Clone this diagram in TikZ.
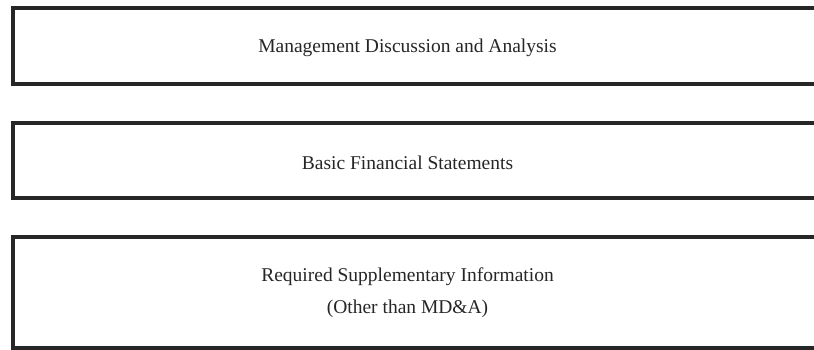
\documentclass[tikz,border=0pt]{standalone}
\usepackage{fontspec}
\setmainfont{Liberation Serif}
\begin{document}
\begin{tikzpicture}[x=1pt,y=-1pt,
  frame/.style={draw=black!85,line width=4pt},
  lbl/.style={font=\fontsize{19.5}{22}\selectfont,text=black!85,anchor=base,inner sep=0pt}]
\useasboundingbox (0,0) rectangle (814,350);
\path[frame] (13,8) coordinate (b1a) rectangle (830,84) coordinate (b1b);
\path[frame] (13,123) coordinate (b2a) rectangle (830,198) coordinate (b2b);
\path[frame] (13,237) coordinate (b3a) rectangle (830,348) coordinate (b3b);
\node[lbl] (t1) at (407.5,53) {Management Discussion and Analysis};
\node[lbl] (t2) at (407.5,170) {Basic Financial Statements};
\node[lbl] (t3) at (407.5,281) {Required Supplementary Information};
\node[lbl] (t4) at (407.5,313) {(Other than MD\&A)};
\end{tikzpicture}
\end{document}
